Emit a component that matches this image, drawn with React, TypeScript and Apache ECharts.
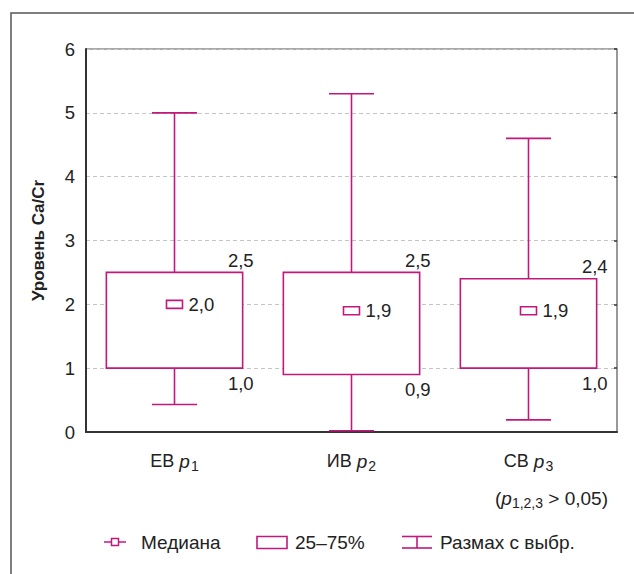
import React, { useEffect, useRef } from "react";
import * as echarts from "echarts";

const categories = ["ЕВ", "ИВ", "СВ"];
const subscripts = ["1", "2", "3"];
const minValues = [0.43, 0.02, 0.19];
const q1Values = [1.0, 0.9, 1.0];
const medianValues = [2.0, 1.9, 1.9];
const q3Values = [2.5, 2.5, 2.4];
const maxValues = [5.0, 5.3, 4.6];
const yTicks = [0, 1, 2, 3, 4, 5, 6];
const legendLabels = ["Медиана", "25–75%", "Размах с выбр."];
const noteText = "(p1,2,3 > 0,05)";

const MAG = "#c2187c";
const FONT = "'Liberation Sans', Arial, Helvetica, sans-serif";
const TXT = "#222";
const FS = 18.5;

const fmt = (v: number) => v.toFixed(1).replace(".", ",");

export default function App() {
  const ref = useRef<HTMLDivElement>(null);
  useEffect(() => {
    if (!ref.current) return;
    const chart = echarts.init(ref.current, null, { renderer: "svg" });
    const data = categories.map((_, i) => [
      i,
      minValues[i],
      q1Values[i],
      medianValues[i],
      q3Values[i],
      maxValues[i],
    ]);

    const renderItem = (params: any, api: any) => {
      const idx = api.value(0);
      const vMin = api.value(1);
      const vQ1 = api.value(2);
      const vMed = api.value(3);
      const vQ3 = api.value(4);
      const vMax = api.value(5);
      const band = api.size([1, 0])[0];
      const boxW = band * 0.77;
      const capW = band * 0.255;
      const pMin = api.coord([idx, vMin]);
      const pQ1 = api.coord([idx, vQ1]);
      const pMed = api.coord([idx, vMed]);
      const pQ3 = api.coord([idx, vQ3]);
      const pMax = api.coord([idx, vMax]);
      const cx = pMin[0];
      const lineStyle = { stroke: MAG, lineWidth: 1.6 };
      const right = cx + boxW / 2;
      return {
        type: "group",
        children: [
          { type: "line", shape: { x1: cx, y1: pMax[1], x2: cx, y2: pQ3[1] }, style: lineStyle },
          { type: "line", shape: { x1: cx - capW / 2, y1: pMax[1], x2: cx + capW / 2, y2: pMax[1] }, style: lineStyle },
          { type: "line", shape: { x1: cx, y1: pQ1[1], x2: cx, y2: pMin[1] }, style: lineStyle },
          { type: "line", shape: { x1: cx - capW / 2, y1: pMin[1], x2: cx + capW / 2, y2: pMin[1] }, style: lineStyle },
          {
            type: "rect",
            shape: { x: cx - boxW / 2, y: pQ3[1], width: boxW, height: pQ1[1] - pQ3[1] },
            style: { fill: "#fff", stroke: MAG, lineWidth: 1.6 },
          },
          {
            type: "rect",
            shape: { x: cx - 8, y: pMed[1] - 4, width: 16, height: 8 },
            style: { fill: "#fff", stroke: MAG, lineWidth: 1.6 },
          },
          {
            type: "text",
            style: {
              x: cx + 14, y: pMed[1], text: fmt(vMed), fill: TXT,
              font: `${FS}px ${FONT}`, align: "left", verticalAlign: "middle",
            },
          },
          {
            type: "text",
            style: {
              x: right + 11, y: pQ3[1] - 12, text: fmt(vQ3), fill: TXT,
              font: `${FS}px ${FONT}`, align: "right", verticalAlign: "middle",
            },
          },
          {
            type: "text",
            style: {
              x: right + 11, y: pQ1[1] + 15, text: fmt(vQ1), fill: TXT,
              font: `${FS}px ${FONT}`, align: "right", verticalAlign: "middle",
            },
          },
        ],
      };
    };

    const legendY = 542;
    const textStyle = { fill: TXT, font: `19px ${FONT}`, verticalAlign: "middle", align: "left" };

    const option: any = {
      animation: false,
      grid: {
        left: 86, right: 17, top: 49, bottom: 142,
        show: true, borderColor: "#555", borderWidth: 1.2,
        containLabel: false,
      },
      xAxis: {
        type: "category",
        data: categories,
        boundaryGap: true,
        axisLine: { show: true, lineStyle: { color: "#333", width: 2 } },
        axisTick: { show: false },
        splitLine: { show: false },
        axisLabel: {
          margin: 17,
          formatter: (v: string, i: number) => `{n|${v} }{p|p}{s|${subscripts[i]}}`,
          rich: {
            n: { fontSize: 18, fontFamily: FONT, color: TXT, lineHeight: 24 },
            p: { fontSize: 19, fontFamily: FONT, color: TXT, fontStyle: "italic", lineHeight: 24 },
            s: { fontSize: 14, fontFamily: FONT, color: TXT, verticalAlign: "bottom", padding: [0, 0, 0, 1] },
          },
        },
      },
      yAxis: [
        {
          type: "value",
          min: yTicks[0],
          max: yTicks[yTicks.length - 1],
          interval: 1,
          name: "Уровень Ca/Cr",
          nameLocation: "middle",
          nameGap: 39,
          nameRotate: 90,
          nameTextStyle: { fontSize: 17, fontWeight: "bold", fontFamily: FONT, color: TXT },
          axisLine: { show: true, lineStyle: { color: "#333", width: 2 } },
          axisTick: { show: false },
          axisLabel: { fontSize: FS, fontFamily: FONT, color: TXT, margin: 11 },
          splitLine: { show: true, lineStyle: { color: "#c4c4c4", type: [4, 3], width: 1 } },
        },
        {
          type: "value",
          position: "right",
          min: yTicks[0],
          max: yTicks[yTicks.length - 1],
          interval: 1,
          axisLine: { show: false },
          axisTick: { show: true, inside: true, length: 3, lineStyle: { color: "#333", width: 1.5 } },
          axisLabel: { show: false },
          splitLine: { show: false },
        },
      ],
      series: [
        {
          type: "custom",
          renderItem,
          data,
          encode: { x: 0, y: [1, 2, 3, 4, 5] },
          z: 3,
        },
      ],
      graphic: [
        {
          type: "rect",
          shape: { x: 11, y: 13, width: 800, height: 800 },
          style: { fill: "none", stroke: "#555", lineWidth: 1.5 },
          silent: true,
        },
        {
          type: "text",
          style: {
            x: 495, y: 498, fill: TXT, verticalAlign: "middle", align: "left",
            text: `{t|(}{p|p}{s|${noteText.slice(2, 7)}}{t|${noteText.slice(7)}}`,
            rich: {
              t: { fontSize: 19, fontFamily: FONT, fill: TXT, lineHeight: 24 },
              p: { fontSize: 19, fontFamily: FONT, fill: TXT, fontStyle: "italic", lineHeight: 24 },
              s: { fontSize: 14, fontFamily: FONT, fill: TXT, verticalAlign: "bottom" },
            },
          },
        },
        // legend: median
        { type: "line", shape: { x1: 104, y1: legendY, x2: 126, y2: legendY }, style: { stroke: MAG, lineWidth: 1.5 } },
        { type: "rect", shape: { x: 111.5, y: legendY - 3.5, width: 7, height: 7 }, style: { fill: "#fff", stroke: MAG, lineWidth: 1.5 } },
        { type: "text", style: { ...textStyle, x: 141, y: legendY, text: legendLabels[0] } },
        // legend: box
        { type: "rect", shape: { x: 257, y: 536.5, width: 30, height: 12 }, style: { fill: "#fff", stroke: MAG, lineWidth: 1.6 } },
        { type: "text", style: { ...textStyle, x: 295, y: legendY, text: legendLabels[1] } },
        // legend: whisker
        { type: "line", shape: { x1: 402, y1: 536.5, x2: 432, y2: 536.5 }, style: { stroke: MAG, lineWidth: 1.6 } },
        { type: "line", shape: { x1: 402, y1: 548, x2: 432, y2: 548 }, style: { stroke: MAG, lineWidth: 1.6 } },
        { type: "line", shape: { x1: 417, y1: 536.5, x2: 417, y2: 548 }, style: { stroke: MAG, lineWidth: 1.6 } },
        { type: "text", style: { ...textStyle, x: 440, y: legendY, text: legendLabels[2] } },
      ],
    };
    chart.setOption(option);
    return () => chart.dispose();
  }, []);
  return (
    <div
      ref={ref}
      style={{ position: "absolute", left: 0, top: 0, width: 634, height: 574 }}
    />
  );
}
